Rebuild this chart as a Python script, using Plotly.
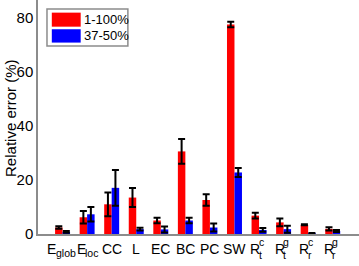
import plotly.graph_objects as go

# category labels: (main text, subscript, superscript)
cat_main = ["E", "E", "CC", "L", "EC", "BC", "PC", "SW", "R", "R", "R", "R"]
cat_sub = ["glob", "loc", "", "", "", "", "", "", "t", "t", "r", "r"]
cat_sup = ["", "", "", "", "", "", "", "", "c", "g", "c", "g"]
positions = [1, 2, 3, 4, 5, 6, 7, 8, 9, 10, 11, 12]

red_vals = [2.4, 6.2, 11.0, 13.5, 5.0, 30.6, 12.6, 77.6, 6.8, 4.3, 3.4, 1.9]
red_err = [0.5, 2.3, 4.4, 3.5, 1.0, 4.6, 2.1, 1.0, 1.1, 1.4, 0.2, 0.6]
blue_vals = [0.8, 7.3, 17.1, 1.8, 1.7, 5.0, 2.4, 22.8, 1.5, 1.8, 0.3, 1.1]
blue_err = [0.3, 2.7, 6.6, 0.5, 1.1, 1.0, 1.5, 1.7, 0.7, 1.3, 0.1, 0.4]

series_names = ["1-100%", "37-50%"]
yticks = [0, 20, 40, 60, 80]

font = "Liberation Sans, Arial, sans-serif"

fig = go.Figure()
fig.add_trace(go.Bar(x=positions, y=red_vals, name=series_names[0],
                     marker=dict(color="#ff0000", line=dict(width=0)),
                     error_y=dict(type="data", array=red_err, color="black",
                                  thickness=2, width=3.5)))
fig.add_trace(go.Bar(x=positions, y=blue_vals, name=series_names[1],
                     marker=dict(color="#0000ff", line=dict(width=0)),
                     error_y=dict(type="data", array=blue_err, color="black",
                                  thickness=2, width=3.5)))

# custom legend (paper coordinates)
shapes = [
    dict(type="rect", xref="paper", yref="paper", x0=0.028, x1=0.280, y0=0.803, y1=0.962,
         line=dict(color="#8c8c8c", width=1.5), fillcolor="white", layer="above"),
    dict(type="rect", xref="paper", yref="paper", x0=0.043, x1=0.133, y0=0.886, y1=0.946,
         line=dict(width=0), fillcolor="#ff0000", layer="above"),
    dict(type="rect", xref="paper", yref="paper", x0=0.043, x1=0.133, y0=0.818, y1=0.875,
         line=dict(width=0), fillcolor="#0000ff", layer="above"),
]
annotations = [
    dict(xref="paper", yref="paper", x=0.137, y=0.916, text=series_names[0], showarrow=False,
         xanchor="left", yanchor="middle", font=dict(family=font, size=13, color="black")),
    dict(xref="paper", yref="paper", x=0.137, y=0.847, text=series_names[1], showarrow=False,
         xanchor="left", yanchor="middle", font=dict(family=font, size=13, color="black")),
    dict(xref="paper", yref="paper", x=-0.084, y=0.496, text="Relative error (%)", showarrow=False,
         textangle=-90, xanchor="center", yanchor="middle",
         font=dict(family=font, size=15, color="black")),
]

lab_font = dict(family=font, size=14, color="black")
small_font = dict(family=font, size=10.5, color="black")


def lab(p, text, xs, ys, f, anchor="left"):
    return dict(xref="x", yref="paper", x=p, y=0, xshift=xs, yshift=ys, text=text,
                showarrow=False, xanchor=anchor, yanchor="middle", font=f,
                borderpad=0, borderwidth=0)


for p, m, sb, sp in zip(positions, cat_main, cat_sub, cat_sup):
    if sb and not sp:
        if sb == "glob":
            annotations.append(lab(p, m, -15.5, -15, lab_font))
            annotations.append(lab(p, sb, -7, -19, small_font))
        else:
            annotations.append(lab(p, m, -10.5, -15, lab_font))
            annotations.append(lab(p, sb, -2, -19, small_font))
    elif sb and sp:
        annotations.append(lab(p, m, -9, -15, lab_font))
        annotations.append(lab(p, sp, -0.5, -7.5, small_font))
        annotations.append(lab(p, sb, -0.5, -20.5, small_font))
    else:
        annotations.append(lab(p, m, 0, -15, lab_font, anchor="center"))

fig.update_layout(
    width=359, height=266,
    margin=dict(l=38, r=0, t=0, b=32, autoexpand=False),
    paper_bgcolor="white", plot_bgcolor="white",
    barmode="group", bargap=0.39, bargroupgap=0,
    showlegend=False,
    shapes=shapes, annotations=annotations,
    font=dict(family=font, color="black"),
)
fig.update_xaxes(range=[0, 13.07], tickmode="array", tickvals=positions, showticklabels=False,
                 showgrid=False, zeroline=False, showline=True, linecolor="#8c8c8c", linewidth=1.5,
                 ticks="", automargin=False)
fig.update_yaxes(range=[0, 86.7], tickmode="array", tickvals=yticks,
                 showgrid=False, zeroline=False, showline=True, linecolor="#8c8c8c", linewidth=1.5,
                 ticks="", automargin=False, tickfont=dict(family=font, size=15, color="black"))

fig.write_html("out.html", config={"displayModeBar": False},
               post_script="document.body.style.margin='0';document.body.style.overflow='hidden';")
